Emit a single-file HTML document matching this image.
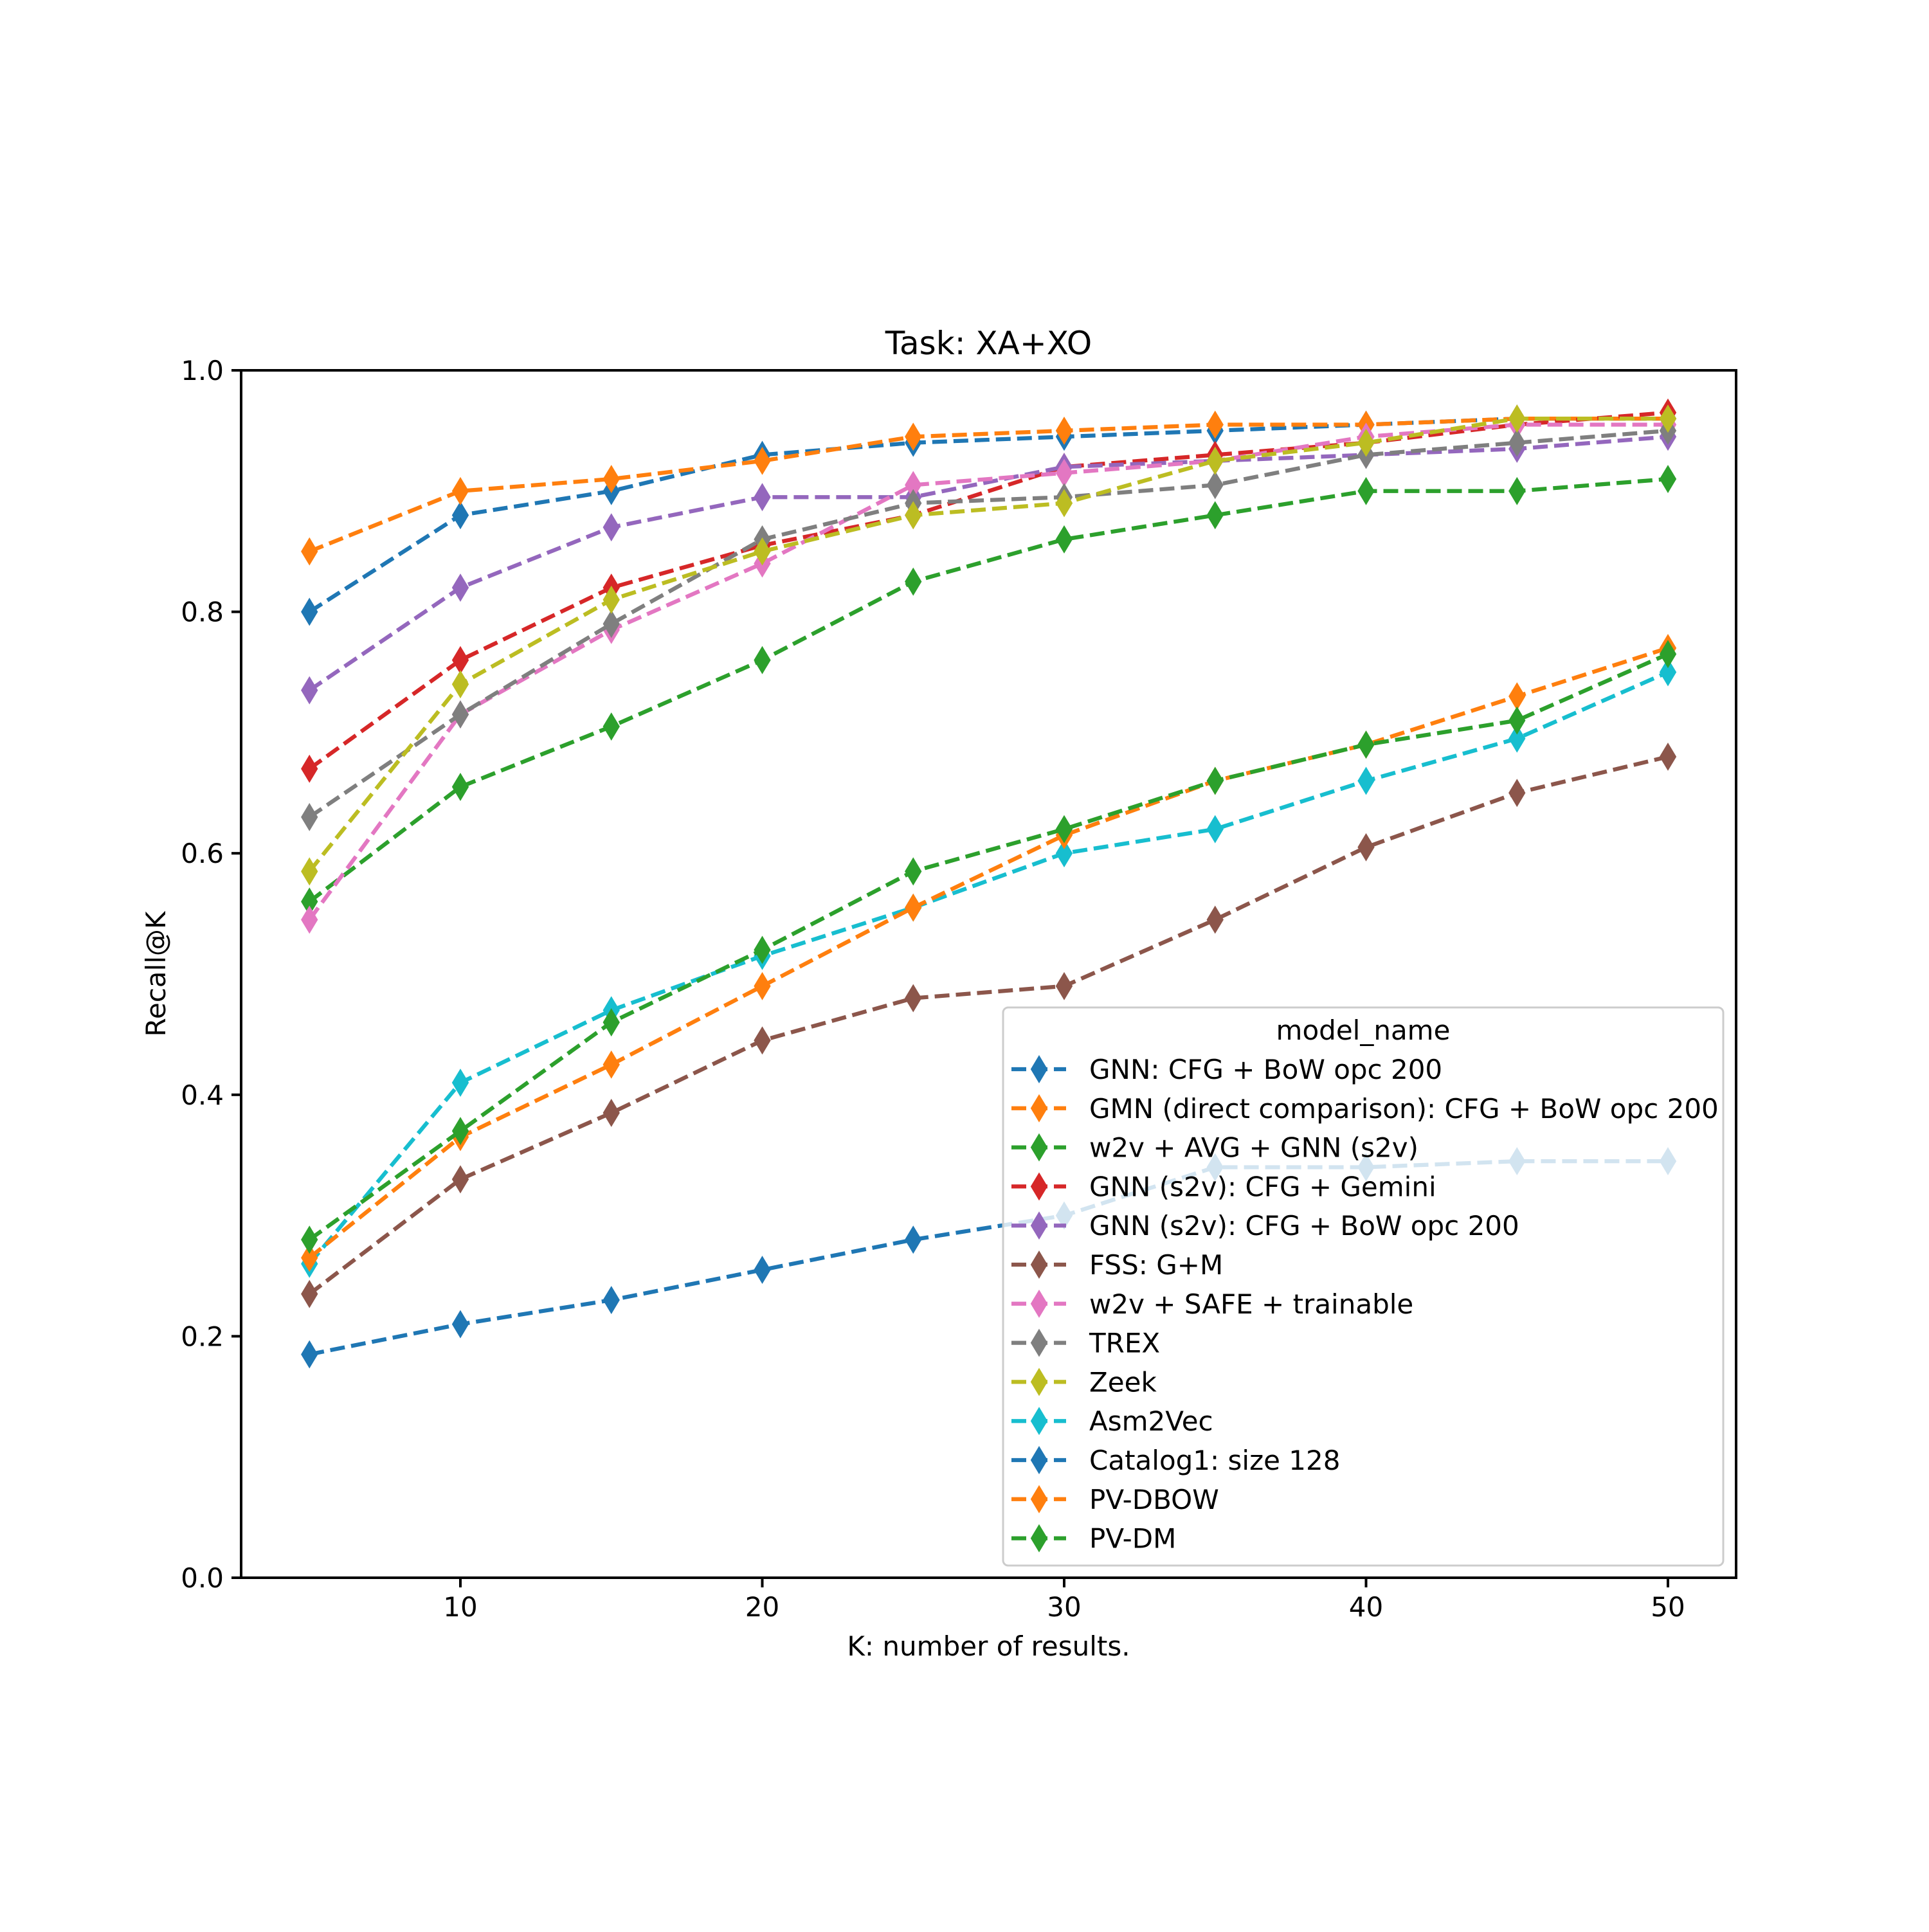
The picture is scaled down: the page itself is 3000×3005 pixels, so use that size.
<!DOCTYPE html>
<html><head><meta charset="utf-8"><style>
html,body{margin:0;padding:0;background:#fff}
svg text{font-family:"DejaVu Sans","Liberation Sans",sans-serif;fill:#000}
</style></head><body>
<svg id="chart" width="3000" height="3000" viewBox="0 0 3000 3000" xmlns="http://www.w3.org/2000/svg">
<rect width="3000" height="3000" fill="#fff"/>
<g id="plot"></g>
<g id="axes"></g>
<g id="legend"></g>
</svg>
<script>
const ks = [5,10,15,20,25,30,35,40,45,50];
const names = ["GNN: CFG + BoW opc 200","GMN (direct comparison): CFG + BoW opc 200","w2v + AVG + GNN (s2v)","GNN (s2v): CFG + Gemini","GNN (s2v): CFG + BoW opc 200","FSS: G+M","w2v + SAFE + trainable","TREX","Zeek","Asm2Vec","Catalog1: size 128","PV-DBOW","PV-DM"];
const colors = ["#1f77b4","#ff7f0e","#2ca02c","#d62728","#9467bd","#8c564b","#e377c2","#7f7f7f","#bcbd22","#17becf","#1f77b4","#ff7f0e","#2ca02c"];
const s0 = [0.80,0.88,0.90,0.93,0.94,0.945,0.95,0.955,0.96,0.96];
const s1 = [0.85,0.90,0.91,0.925,0.945,0.95,0.955,0.955,0.96,0.96];
const s2 = [0.56,0.655,0.705,0.76,0.825,0.86,0.88,0.90,0.90,0.91];
const s3 = [0.67,0.76,0.82,0.855,0.88,0.92,0.93,0.94,0.955,0.965];
const s4 = [0.735,0.82,0.87,0.895,0.895,0.92,0.925,0.93,0.935,0.945];
const s5 = [0.235,0.33,0.385,0.445,0.48,0.49,0.545,0.605,0.65,0.68];
const s6 = [0.545,0.715,0.785,0.84,0.905,0.915,0.925,0.945,0.955,0.955];
const s7 = [0.63,0.715,0.79,0.86,0.89,0.895,0.905,0.93,0.94,0.95];
const s8 = [0.585,0.74,0.81,0.85,0.88,0.89,0.925,0.94,0.96,0.96];
const s9 = [0.26,0.41,0.47,0.515,0.555,0.60,0.62,0.66,0.695,0.75];
const s10 = [0.185,0.21,0.23,0.255,0.28,0.30,0.34,0.34,0.345,0.345];
const s11 = [0.265,0.365,0.425,0.49,0.555,0.615,0.66,0.69,0.73,0.77];
const s12 = [0.28,0.37,0.46,0.52,0.585,0.62,0.66,0.69,0.71,0.765];
const series = [s0,s1,s2,s3,s4,s5,s6,s7,s8,s9,s10,s11,s12];
const xTicks = [10,20,30,40,50];
const yTicks = [0.0,0.2,0.4,0.6,0.8,1.0];

const L=375,R=2700,T=576,B=2454;
const xs = k => 716 + (k-10)*(2594-716)/40;
const ys = v => B - v*(B-T);
const NS="http://www.w3.org/2000/svg";
function mk(tag, attrs, parent){const e=document.createElementNS(NS,tag);for(const a in attrs)e.setAttribute(a,attrs[a]);parent.appendChild(e);return e;}
function diamond(x,y){return `M${x},${y-20} L${x+12},${y} L${x},${y+20} L${x-12},${y} Z`;}

const plot=document.getElementById('plot');
series.forEach((s,i)=>{
  const g=mk('g',{},plot);
  
  
  const pts=s.map((v,j)=>xs(ks[j])+','+ys(v)).join(' ');
  const pl=mk('polyline',{points:pts,fill:'none',stroke:colors[i],'stroke-width':6.25,'stroke-dasharray':'23 10','stroke-linecap':'butt'},g);
  
  
  s.forEach((v,j)=>{
    const p=mk('path',{d:diamond(xs(ks[j]),ys(v)),fill:colors[i],stroke:colors[i],'stroke-width':2},g);
    
    
  });
});

const ax=document.getElementById('axes');
const frame=mk('rect',{x:L,y:T,width:R-L,height:B-T,fill:'none',stroke:'#000','stroke-width':4},ax);


xTicks.forEach(t=>{
  mk('line',{x1:xs(t),x2:xs(t),y1:B,y2:B+15,stroke:'#000','stroke-width':4},ax);
  const tx=mk('text',{x:xs(t),y:B+60,'font-size':42,'text-anchor':'middle'},ax);
  tx.textContent=t;
  
  
});
yTicks.forEach(t=>{
  mk('line',{x1:L-15,x2:L,y1:ys(t),y2:ys(t),stroke:'#000','stroke-width':4},ax);
  const tx=mk('text',{x:L-27,y:ys(t)+15,'font-size':42,'text-anchor':'end'},ax);
  tx.textContent=t.toFixed(1);
  
  
});
let t=mk('text',{x:(L+R)/2,y:551,'font-size':50,'text-anchor':'middle'},ax);
t.textContent='Task: XA+XO';


t=mk('text',{x:(L+R)/2,y:2575,'font-size':42,'text-anchor':'middle'},ax);
t.textContent='K: number of results.';


t=mk('text',{x:257,y:(T+B)/2,'font-size':42,'text-anchor':'middle',transform:`rotate(-90 257 ${(T+B)/2})`},ax);
t.textContent='Recall@K';



const lg=document.getElementById('legend');


mk('rect',{x:1560,y:1567,width:1120,height:868,rx:8,fill:'#fff','fill-opacity':0.8,stroke:'#ccc','stroke-width':3},lg);
t=mk('text',{x:2120,y:1617,'font-size':42,'text-anchor':'middle'},lg);
t.textContent='model_name';


names.forEach((n,i)=>{
  const y=1663+i*60.8;
  const g=mk('g',{},lg);
  
  
  mk('line',{x1:1573,x2:1658,y1:y,y2:y,stroke:colors[i],'stroke-width':6.25,'stroke-dasharray':'23 10'},g);
  mk('path',{d:diamond(1616,y),fill:colors[i],stroke:colors[i],'stroke-width':2},g);
  const tx=mk('text',{x:1694,y:y+15,'font-size':42},g);
  tx.textContent=n;
});
</script>
</body></html>
